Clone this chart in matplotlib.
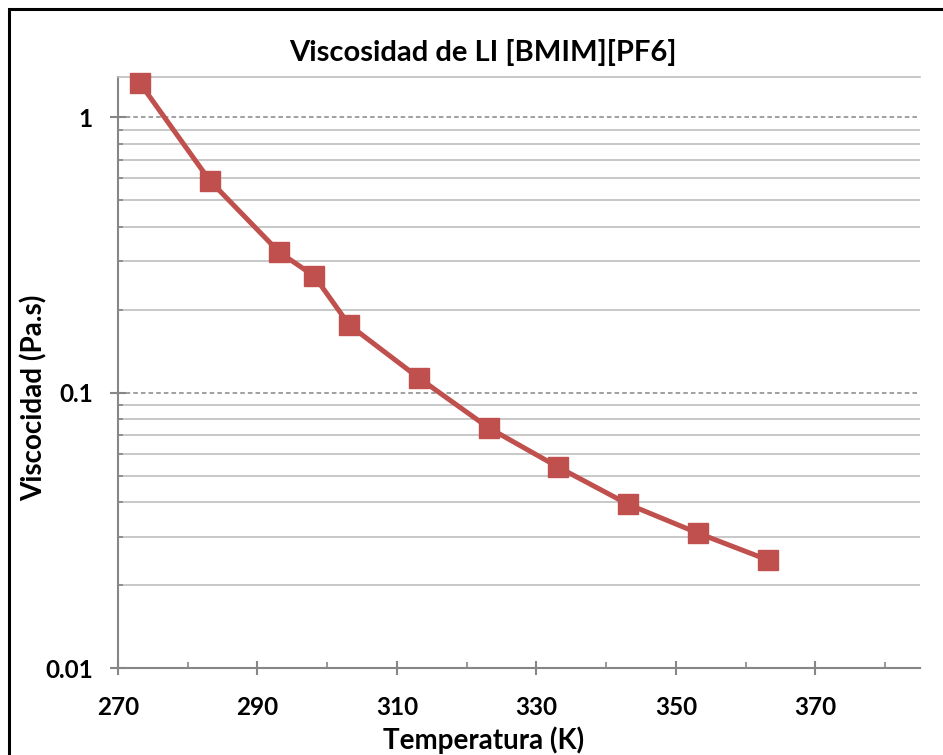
import numpy as np
import matplotlib.pyplot as plt
from matplotlib.ticker import FixedLocator, NullFormatter
from matplotlib.patches import Rectangle

# data
temperature = [273.15, 283.15, 293.15, 298.15, 303.15, 313.15, 323.15, 333.15, 343.15, 353.15, 363.15]
viscosity = [1.33, 0.589, 0.323, 0.265, 0.176, 0.113, 0.0745, 0.0536, 0.0393, 0.0309, 0.0247]

y_major = [0.01, 0.1, 1]
y_major_labels = ["0.01", "0.1", "1"]
x_major = [270, 290, 310, 330, 350, 370]
x_minor = [280, 300, 320, 340, 360, 380]

plt.rcParams['font.family'] = ['Lato', 'DejaVu Sans']
plt.rcParams['font.weight'] = 'bold'

fig = plt.figure(figsize=(9.43, 7.55), dpi=100)
ax = fig.add_axes([118/943, 1 - 668/755, (920 - 118)/943, (668 - 77)/755])

ax.set_yscale('log')
ax.set_xlim(270, 385)
ax.set_ylim(0.01, 1.4)

# gridlines like excel: dashed major, solid minor
y_minor = [m * 10.0**e for e in (-2, -1, 0) for m in range(2, 10)]
y_minor = [v for v in y_minor if v < 1.4]
ax.yaxis.set_major_locator(FixedLocator(y_major))
ax.set_yticklabels(y_major_labels)
ax.yaxis.set_minor_locator(FixedLocator(y_minor))
ax.yaxis.set_minor_formatter(NullFormatter())
ax.set_xticks(x_major)
ax.set_xticks(x_minor, minor=True)

ax.grid(True, which='minor', axis='y', color='#BFBFBF', lw=1.2, ls='-')
ax.grid(True, which='major', axis='y', color='#868686', lw=1.1, ls=(0, (3, 2)))
ax.set_axisbelow(True)

ax.plot(temperature, viscosity, '-s', color='#C0504D', lw=3.6, ms=14.5,
        mec='#C0504D', clip_on=False, zorder=3)

ax.spines['right'].set_visible(False)
ax.spines['top'].set_color('#BFBFBF')
ax.spines['top'].set_linewidth(1.2)
for s in ['left', 'bottom']:
    ax.spines[s].set_color('#868686')
    ax.spines[s].set_linewidth(1.5)

ax.tick_params(axis='y', which='major', direction='inout', length=11.5, width=1.5,
               color='#868686', pad=12.5, labelsize=17.5)
ax.tick_params(axis='y', which='minor', direction='in', length=3.6, width=1.2, color='#868686')
ax.tick_params(axis='x', which='major', direction='inout', length=10, width=1.5,
               color='#868686', pad=15, labelsize=17.5)
ax.tick_params(axis='x', which='minor', direction='in', length=4.3, width=1.2, color='#868686')

fig.text(483/943, 1 - 52/755, "Viscosidad de LI [BMIM][PF6]", ha='center', va='center',
         fontsize=21, fontweight='bold')
fig.text(484/943, 1 - 740/755, "Temperatura (K)", ha='center', va='center',
         fontsize=20, fontweight='bold')
fig.text(34/943, 1 - 398/755, "Viscocidad (Pa.s)", ha='center', va='center',
         rotation=90, fontsize=20, fontweight='bold')

# chart border (cropped at right and bottom)
fig.patches.append(Rectangle((9/943, -0.1), 1.2, 1.1 - 9/755, transform=fig.transFigure,
                             fill=False, ec='black', lw=2.2))

fig.savefig('out.png', dpi=100)
